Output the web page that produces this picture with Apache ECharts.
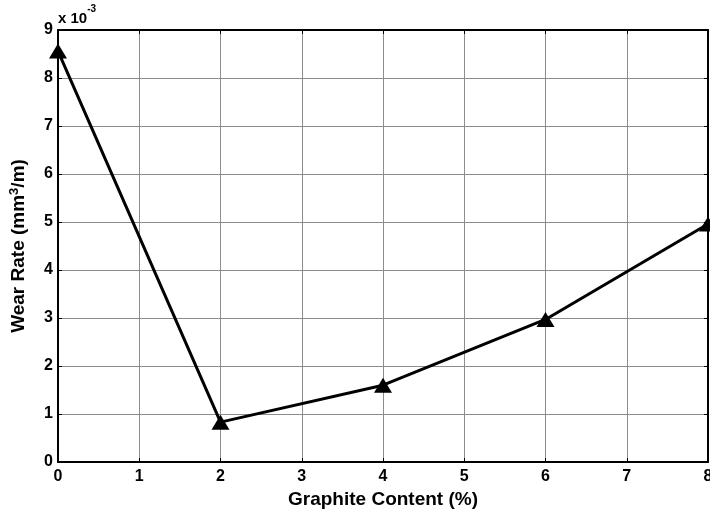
<!DOCTYPE html>
<html><head><meta charset="utf-8">
<script src="https://cdn.jsdelivr.net/npm/echarts@6/dist/echarts.min.js"></script>
<style>html,body{margin:0;padding:0;background:#fff}#c{width:710px;height:517px}</style>
</head><body><div id="c"></div>
<script>
const graphite = [0, 2, 4, 6, 8];
const wearRate = [8.56, 0.83, 1.6, 2.97, 4.96];
const xTicks = [0, 1, 2, 3, 4, 5, 6, 7, 8];
const yTicks = [0, 1, 2, 3, 4, 5, 6, 7, 8, 9];

const font = 'Liberation Sans, Arial, sans-serif';
const chart = echarts.init(document.getElementById('c'));
const baseX = {
  type: 'value', min: xTicks[0], max: xTicks[xTicks.length - 1], interval: 1,
  axisLine: { show: true, onZero: false, lineStyle: { color: '#000', width: 2 } },
  axisTick: { show: true, inside: true, length: 4, lineStyle: { color: '#000' } },
  splitLine: { show: false }
};
const baseY = {
  type: 'value', min: yTicks[0], max: yTicks[yTicks.length - 1], interval: 1,
  axisLine: { show: true, onZero: false, lineStyle: { color: '#000', width: 2 } },
  axisTick: { show: true, inside: true, length: 4, lineStyle: { color: '#000' } },
  splitLine: { show: false }
};
chart.setOption({
  animation: false,
  grid: { left: 58, right: 2, top: 30, bottom: 55, containLabel: false, outerBoundsMode: 'none' },
  xAxis: [
    Object.assign({}, baseX, {
      position: 'bottom',
      name: 'Graphite Content (%)', nameLocation: 'middle', nameGap: 28,
      nameTextStyle: { fontFamily: font, fontWeight: 'bold', fontSize: 19, color: '#000' },
      axisLabel: { fontFamily: font, fontWeight: 'bold', fontSize: 16, color: '#000', margin: 7, showMaxLabel: true },
      splitLine: { show: true, lineStyle: { color: '#8c8c8c', width: 1 } }
    }),
    Object.assign({}, baseX, { position: 'top', axisLabel: { show: false } })
  ],
  yAxis: [
    Object.assign({}, baseY, {
      position: 'left',
      name: 'Wear Rate (mm{s|3}/m)', nameLocation: 'middle', nameGap: 28,
      nameTextStyle: {
        fontFamily: font, fontWeight: 'bold', fontSize: 19, color: '#000',
        rich: { s: { fontFamily: font, fontWeight: 'bold', fontSize: 13, color: '#000', padding: [0, 0, 9, 0] } }
      },
      axisLabel: { fontFamily: font, fontWeight: 'bold', fontSize: 16, color: '#000', margin: 5 },
      splitLine: { show: true, lineStyle: { color: '#8c8c8c', width: 1 } }
    }),
    Object.assign({}, baseY, { position: 'right', axisLabel: { show: false } })
  ],
  graphic: [{
    type: 'text', left: 58, top: 4,
    style: {
      text: '{a|x 10}{s|-3}',
      rich: {
        a: { fontFamily: font, fontWeight: 'bold', fontSize: 15, fill: '#000', verticalAlign: 'bottom', lineHeight: 22 },
        s: { fontFamily: font, fontWeight: 'bold', fontSize: 10, fill: '#000', verticalAlign: 'top', lineHeight: 22, padding: [0, 0, 10, 0] }
      }
    }
  }],
  series: [{
    type: 'line',
    data: graphite.map((g, i) => [g, wearRate[i]]),
    lineStyle: { color: '#000', width: 3 },
    itemStyle: { color: '#000' },
    symbol: 'triangle', symbolSize: [18, 15],
    clip: false
  }]
});
</script></body></html>
